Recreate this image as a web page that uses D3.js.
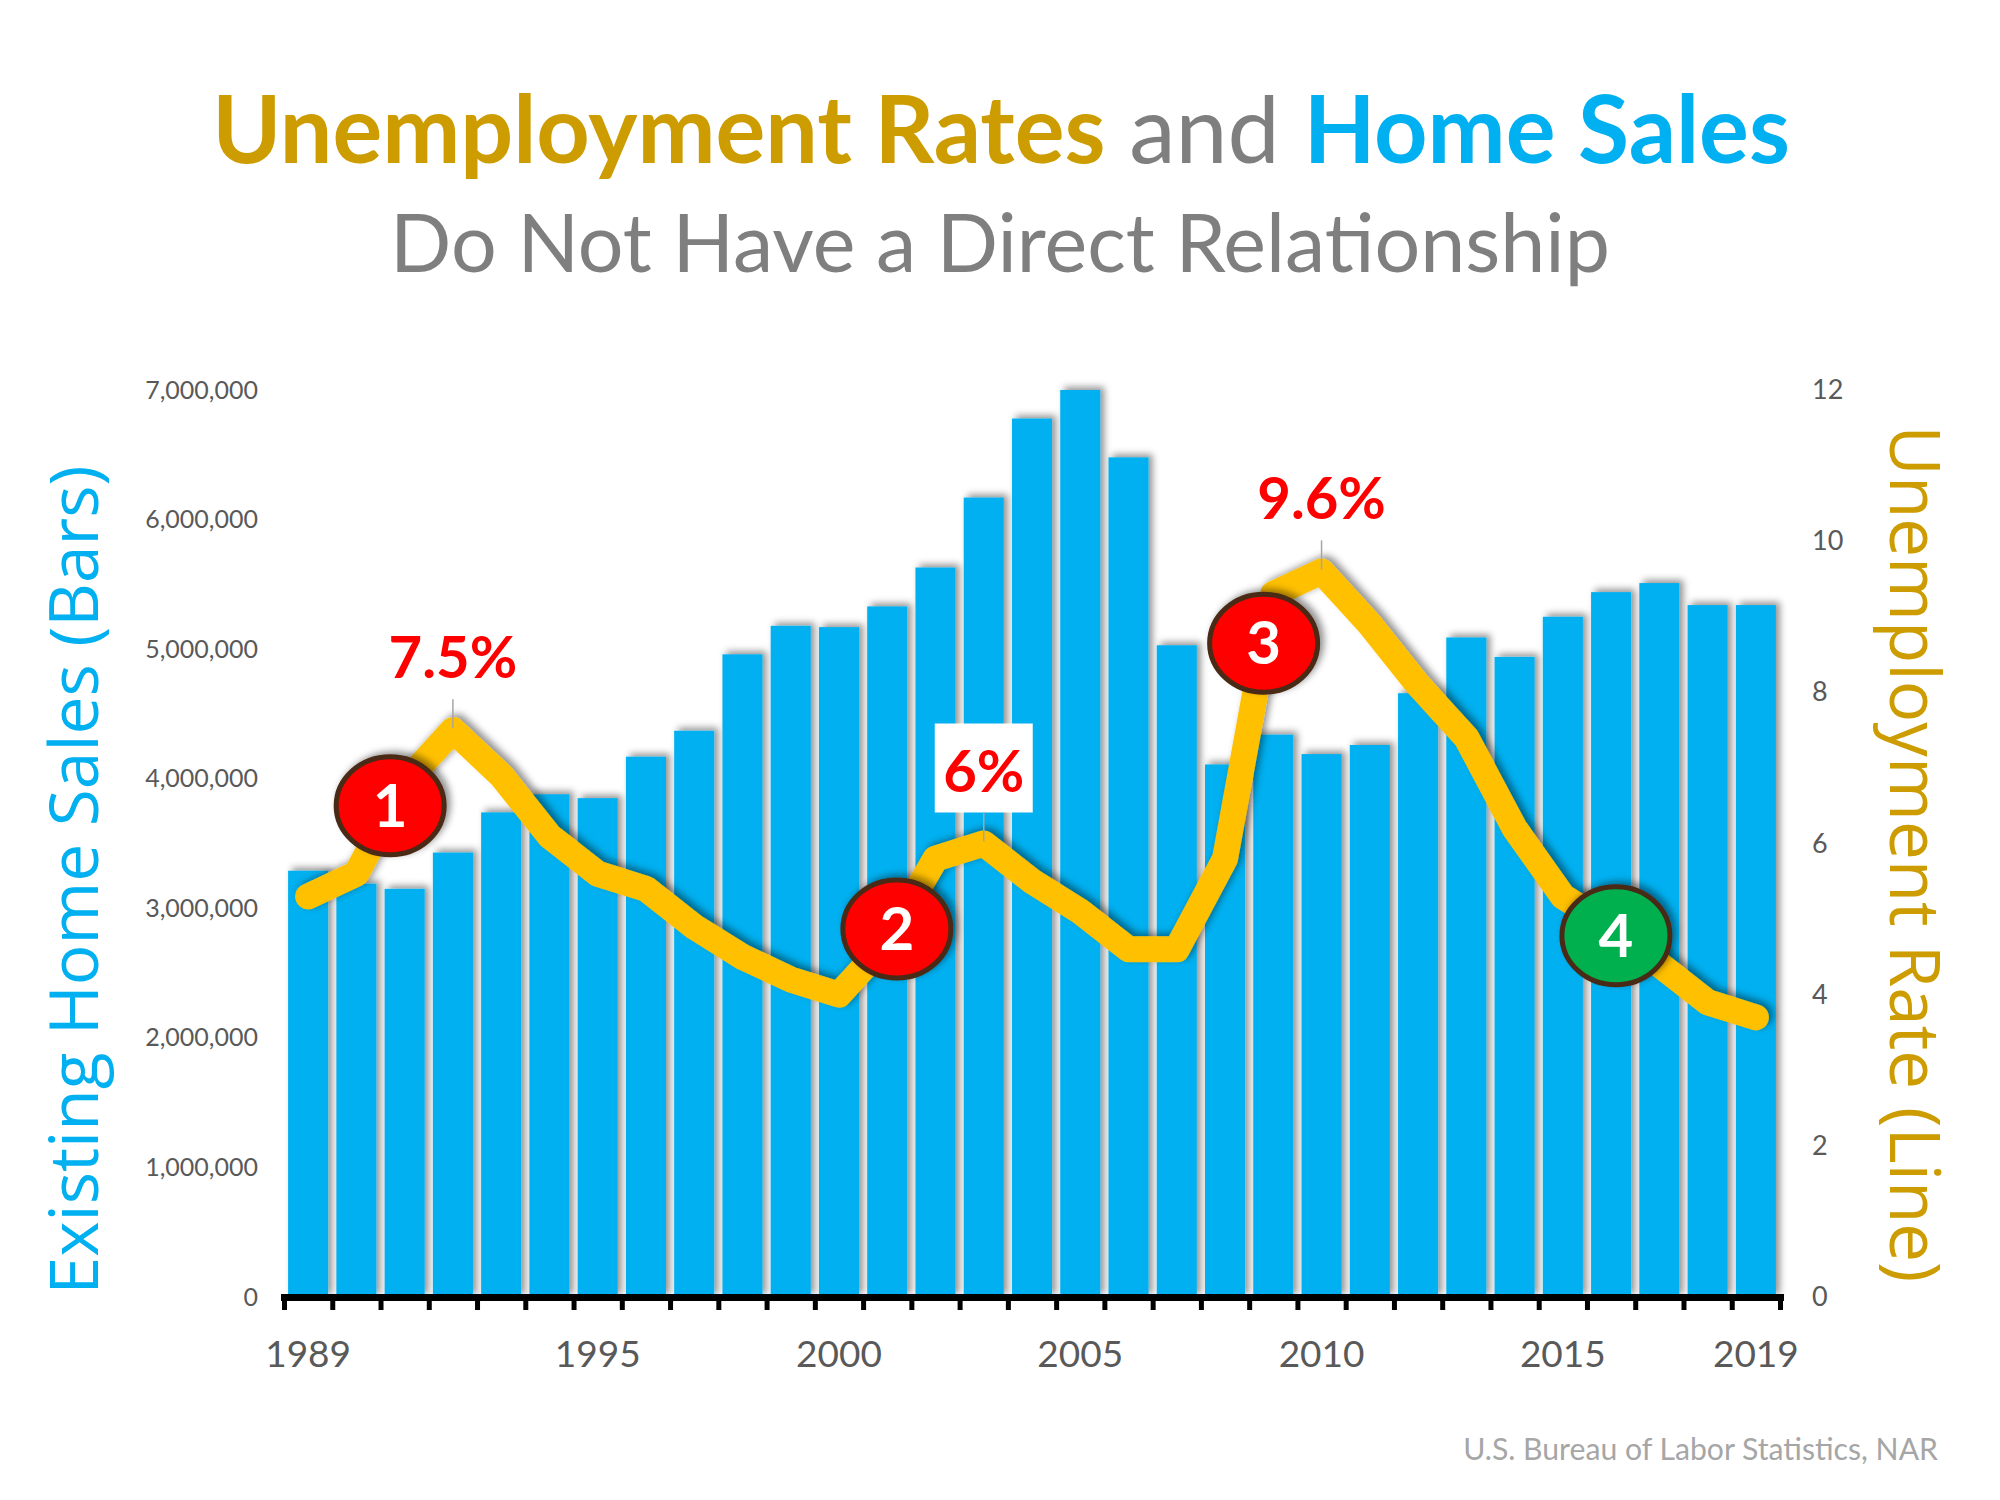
<!DOCTYPE html>
<html>
<head>
<meta charset="utf-8">
<script src="https://cdn.jsdelivr.net/npm/d3@7"></script>
<style>
  html, body { margin: 0; padding: 0; background: #ffffff; }
  svg { display: block; }
</style>
</head>
<body>
<svg id="chart" width="2000" height="1500"></svg>
<script>
// ---------------- data ----------------
const years = [1989,1990,1991,1992,1993,1994,1995,1996,1997,1998,1999,2000,2001,2002,2003,2004,2005,2006,2007,2008,2009,2010,2011,2012,2013,2014,2015,2016,2017,2018,2019];
const homeSales = [3290000,3190000,3150000,3430000,3740000,3880000,3850000,4170000,4370000,4960000,5180000,5170000,5330000,5630000,6170000,6780000,7000000,6480000,5030000,4110000,4340000,4190000,4260000,4660000,5090000,4940000,5250000,5440000,5510000,5340000,5340000];
const unemploymentRate = [5.3,5.6,6.8,7.5,6.9,6.1,5.6,5.4,4.9,4.5,4.2,4.0,4.7,5.8,6.0,5.5,5.1,4.6,4.6,5.8,9.3,9.6,8.9,8.1,7.4,6.2,5.3,4.9,4.4,3.9,3.7];
const salesTicks = [0,1000000,2000000,3000000,4000000,5000000,6000000,7000000];
const rateTicks = [0,2,4,6,8,10,12];
const yearLabels = [1989,1995,2000,2005,2010,2015,2019];
const peakYears = [1992,2003,2010];
const peakLabels = ["7.5%","6%","9.6%"];
const markerTexts = ["1","2","3","4"];
const markerYears = [1990.7,2001.2,2008.8,2016.1];
const markerRates = [6.5,4.87,8.65,4.78];
const markerKinds = ["bad","bad","bad","good"];

// ---------------- setup ----------------
const svg = d3.select("#chart");
const FONT = "Lato, 'Open Sans', sans-serif";
const AXFONT = "'Open Sans', 'Noto Sans', sans-serif";
const BLUE = "#00B0F0", GOLD = "#CC9C00", GREY = "#7F7F7F", LINE = "#FFC000";

const defs = svg.append("defs");
const f = defs.append("filter").attr("id","shadow").attr("x","-20%").attr("y","-20%").attr("width","140%").attr("height","140%");
f.append("feDropShadow").attr("dx",4).attr("dy",-3).attr("stdDeviation",3.5)
  .attr("flood-color","#000").attr("flood-opacity",0.42);

const x = d3.scaleBand().domain(years).range([284,1780]).paddingInner(0.17).paddingOuter(0.085);
const xc = yr => x(yr) + x.bandwidth()/2;
const xYear = d3.scaleLinear().domain([years[0], years[years.length-1]]).range([xc(years[0]), xc(years[years.length-1])]);
const xEdge = d3.scaleLinear().domain([0, years.length]).range([284,1780]);
const yL = d3.scaleLinear().domain([0,7000000]).range([1297,390]);
const yR = d3.scaleLinear().domain([0,12]).range([1297,390]);

function fitWidth(sel, target) {
  const fs = parseFloat(sel.attr("font-size"));
  const w = sel.node().getComputedTextLength();
  if (w > 0) sel.attr("font-size", (fs * target / w).toFixed(2));
}

// ---------------- titles ----------------
const t1 = svg.append("text").attr("x",1001).attr("y",163).attr("text-anchor","middle")
  .attr("font-family",FONT).attr("font-weight",700).attr("font-size",86);
t1.append("tspan").attr("fill",GOLD).text("Unemployment Rates");
t1.append("tspan").attr("fill",GREY).attr("font-weight",400).text(" and ");
t1.append("tspan").attr("fill",BLUE).text("Home Sales");
fitWidth(t1, 1578);

const t2 = svg.append("text").attr("x",1000).attr("y",272).attr("text-anchor","middle")
  .attr("font-family",FONT).attr("font-size",78).attr("fill",GREY)
  .text("Do Not Have a Direct Relationship");
fitWidth(t2, 1220);

// ---------------- bars ----------------
const barData = years.map((yr,i) => ({year: yr, value: homeSales[i]}));
svg.append("g").attr("filter","url(#shadow)")
  .selectAll("rect").data(barData).join("rect")
  .attr("x", d => x(d.year))
  .attr("width", x.bandwidth())
  .attr("y", d => yL(d.value))
  .attr("height", d => yL(0) - yL(d.value))
  .attr("fill", BLUE);

// ---------------- left axis ----------------
const gl = svg.append("g").attr("transform","translate(258,0)")
  .call(d3.axisLeft(yL).tickValues(salesTicks).tickFormat(d3.format(",")).tickSize(0).tickPadding(0));
gl.select(".domain").remove();
gl.selectAll("text").attr("font-family",FONT).attr("font-size",25).attr("fill","#595959");

// ---------------- right axis ----------------
const gr = svg.append("g").attr("transform","translate(1812,0)")
  .call(d3.axisRight(yR).tickValues(rateTicks).tickSize(0).tickPadding(0));
gr.select(".domain").remove();
gr.selectAll("text").attr("font-family",FONT).attr("font-size",27).attr("fill","#595959");

// ---------------- bottom axis ----------------
const gb = svg.append("g").attr("transform","translate(0,1297)")
  .call(d3.axisBottom(xEdge).tickValues(d3.range(0, years.length+1)).tickFormat("").tickSize(13).tickSizeOuter(0));
gb.select(".domain").attr("stroke","#000").attr("stroke-width",7).attr("stroke-linecap","square");
gb.selectAll(".tick line").attr("stroke","#000").attr("stroke-width",5);

svg.append("g").selectAll("text").data(yearLabels).join("text")
  .attr("x", d => xc(d)).attr("y",1367).attr("text-anchor","middle")
  .attr("font-family",FONT).attr("font-size",37).attr("fill","#595959")
  .text(d => d);

// ---------------- axis titles ----------------
const lt = svg.append("text").attr("transform","translate(98,880) rotate(-90)")
  .attr("text-anchor","middle").attr("font-family",AXFONT).attr("font-size",64).attr("fill",BLUE)
  .text("Existing Home Sales (Bars)");
fitWidth(lt, 829);
const rt = svg.append("text").attr("transform","translate(1890,854) rotate(90)")
  .attr("text-anchor","middle").attr("font-family",AXFONT).attr("font-size",64).attr("fill",GOLD)
  .text("Unemployment Rate (Line)");
fitWidth(rt, 857);

// ---------------- unemployment line ----------------
const lineData = years.map((yr,i) => ({year: yr, rate: unemploymentRate[i]}));
svg.append("path").datum(lineData)
  .attr("filter","url(#shadow)")
  .attr("fill","none").attr("stroke",LINE).attr("stroke-width",26)
  .attr("stroke-linejoin","round").attr("stroke-linecap","round")
  .attr("d", d3.line().x(d => xc(d.year)).y(d => yR(d.rate)));

// ---------------- peak labels ----------------
const peaks = peakYears.map((yr,i) => ({year: yr, rate: unemploymentRate[years.indexOf(yr)], label: peakLabels[i]}));
const pg = svg.append("g").selectAll("g").data(peaks).join("g");
pg.append("rect")
  .attr("x", d => xc(d.year) - 49).attr("width", 98)
  .attr("y", d => yR(d.rate) - 120).attr("height", 89)
  .attr("fill","#ffffff");
pg.append("line")
  .attr("x1", d => xc(d.year)).attr("x2", d => xc(d.year))
  .attr("y1", d => yR(d.rate) - 31).attr("y2", d => yR(d.rate) - 2)
  .attr("stroke","#a6a6a6").attr("stroke-width",1.5);
pg.append("text")
  .attr("x", d => xc(d.year)).attr("y", d => yR(d.rate) - 52)
  .attr("text-anchor","middle").attr("font-family",FONT).attr("font-weight",700)
  .attr("font-size",58).attr("fill","#FF0000")
  .text(d => d.label);

// ---------------- numbered markers ----------------
const markers = markerTexts.map((t,i) => ({t, year: markerYears[i], rate: markerRates[i], kind: markerKinds[i]}));
const mg = svg.append("g").selectAll("g").data(markers).join("g")
  .attr("transform", d => `translate(${xYear(d.year)},${yR(d.rate)})`);
mg.append("ellipse").attr("rx",54).attr("ry",49)
  .attr("filter","url(#shadow)")
  .attr("fill", d => d.kind === "good" ? "#00B050" : "#FF0000")
  .attr("stroke","#4A2A14").attr("stroke-width",5);
mg.append("text").attr("y",21).attr("text-anchor","middle")
  .attr("font-family",FONT).attr("font-weight",700).attr("font-size",60).attr("fill","#ffffff")
  .text(d => d.t);

// ---------------- source ----------------
const src = svg.append("text").attr("x",1938).attr("y",1460).attr("text-anchor","end")
  .attr("font-family",FONT).attr("font-size",28).attr("fill","#A6A6A6")
  .text("U.S. Bureau of Labor Statistics, NAR");
fitWidth(src, 475);
</script>
</body>
</html>
